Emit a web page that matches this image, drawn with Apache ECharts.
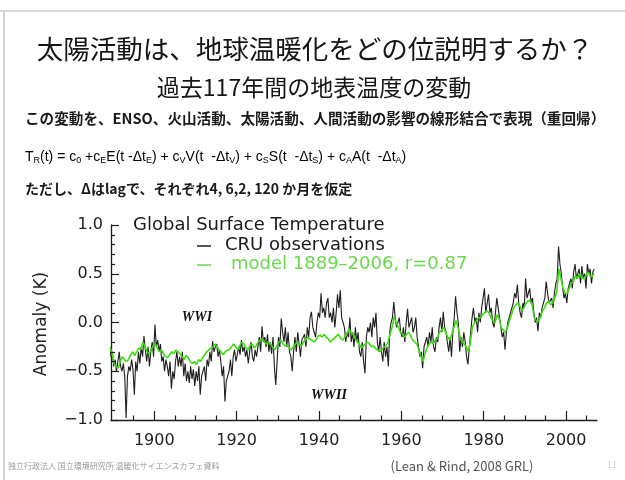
<!DOCTYPE html>
<html>
<head>
<meta charset="utf-8">
<script src="https://cdn.jsdelivr.net/npm/echarts@6/dist/echarts.min.js"></script>
<style>
  html, body { margin: 0; padding: 0; background: #fff; }
  #chart { width: 625px; height: 480px; }
</style>
</head>
<body>
<div id="chart"></div>
<script>
// Global surface temperature anomaly (K): CRU observations, 3 samples per year from 1889
const obsStartYear = 1889;
const obsPerYear = 3;
const cruObs = [
  -0.25, -0.35, -0.30,  // 1889
  -0.45, -0.38, -0.50,  // 1890
  -0.40, -0.30, -0.45,
  -0.50, -0.42, -0.55,
  -0.98, -0.55, -0.45,
  -0.50, -0.38, -0.48,
  -0.74, -0.40, -0.50,  // 1895
  -0.30, -0.42, -0.25,
  -0.35, -0.14, -0.28,
  -0.40, -0.25, -0.45,
  -0.30, -0.20, -0.35,
  -0.02, -0.25, -0.18,  // 1900
  -0.30, -0.22, -0.40,
  -0.35, -0.50, -0.38,
  -0.45, -0.55, -0.40,
  -0.68, -0.50, -0.58,
  -0.40, -0.30, -0.45,  // 1905
  -0.35, -0.45, -0.30,
  -0.55, -0.42, -0.60,
  -0.50, -0.62, -0.45,
  -0.58, -0.48, -0.65,
  -0.50, -0.60, -0.45,  // 1910
  -0.74, -0.55, -0.50,
  -0.45, -0.60, -0.38,
  -0.45, -0.30, -0.40,
  -0.19, -0.30, -0.25,
  -0.22, -0.35, -0.28,  // 1915
  -0.40, -0.55, -0.45,
  -0.81, -0.60, -0.55,
  -0.50, -0.38, -0.55,
  -0.35, -0.28, -0.40,
  -0.38, -0.25, -0.33,  // 1920
  -0.18, -0.30, -0.25,
  -0.35, -0.28, -0.42,
  -0.30, -0.20, -0.35,
  -0.40, -0.28, -0.35,
  -0.25, -0.15, -0.30,  // 1925
  -0.04, -0.20, -0.15,
  -0.25, -0.12, -0.30,
  -0.20, -0.32, -0.15,
  -0.45, -0.64, -0.40,
  -0.15, -0.25,  0.04,  // 1930
  -0.10, -0.20, -0.05,
  -0.25, -0.10, -0.30,
  -0.35, -0.50, -0.30,
  -0.15, -0.30, -0.10,
  -0.22, -0.35, -0.18,  // 1935
  -0.20, -0.12, -0.25,
  -0.05, -0.15,  0.05,
   0.11, -0.05, -0.10,
  -0.15,  0.00,  0.10,
   0.05,  0.30,  0.10,  // 1940
   0.15,  0.05,  0.20,
   0.25,  0.05,  0.10,
   0.00,  0.15, -0.05,
   0.10,  0.29,  0.15,
   0.33,  0.05,  0.00,  // 1945
  -0.05, -0.20, -0.10,
  -0.15,  0.05, -0.20,
  -0.10, -0.25, -0.05,
  -0.20, -0.10, -0.30,
  -0.35, -0.20, -0.40,  // 1950
  -0.52, -0.15, -0.05,
  -0.10,  0.00, -0.15,
   0.05, -0.05,  0.10,
  -0.20, -0.30, -0.15,
  -0.30, -0.40, -0.20,  // 1955
  -0.35, -0.25, -0.45,
  -0.10,  0.00,  0.05,
   0.21,  0.05, -0.05,
  -0.05,  0.05, -0.10,
  -0.15, -0.05, -0.20,  // 1960
   0.00,  0.14, -0.05,
  -0.05,  0.05, -0.10,
  -0.05,  0.05, -0.15,
  -0.25, -0.35, -0.30,
  -0.47, -0.25, -0.20,  // 1965
  -0.15, -0.25, -0.10,
  -0.20, -0.05, -0.25,
  -0.30, -0.15, -0.20,
  -0.05,  0.05, -0.10,
   0.11, -0.05, -0.10,  // 1970
  -0.20, -0.30, -0.15,
  -0.35, -0.10,  0.05,
   0.27,  0.10,  0.00,
  -0.30, -0.15, -0.25,
  -0.10, -0.20, -0.35,  // 1975
  -0.43, -0.25, -0.10,
   0.05,  0.15,  0.00,
   0.05, -0.10,  0.10,
   0.00,  0.15,  0.25,
   0.35,  0.10,  0.20,  // 1980
   0.29,  0.10,  0.15,
   0.00, -0.05,  0.10,
   0.25,  0.15,  0.05,
  -0.05, -0.15, -0.10,
  -0.28, -0.10,  0.00,  // 1985
   0.05,  0.10,  0.15,
   0.20,  0.30,  0.25,
   0.39,  0.20,  0.10,
   0.05,  0.20,  0.15,
   0.45,  0.25,  0.30,  // 1990
   0.35,  0.20,  0.25,
   0.10,  0.00,  0.05,
  -0.09,  0.10,  0.05,
   0.15,  0.20,  0.25,
   0.42,  0.30,  0.20,  // 1995
   0.18,  0.25,  0.15,
   0.30,  0.40,  0.45,
   0.78,  0.60,  0.50,
   0.35,  0.25,  0.30,
   0.20,  0.35,  0.40,  // 2000
   0.45,  0.35,  0.52,
   0.60,  0.45,  0.50,
   0.55,  0.40,  0.58,
   0.45,  0.50,  0.35,
   0.60,  0.50,  0.55,  // 2005
   0.40,  0.52,  0.55
];

// Regression model (ENSO, volcanic, solar, anthropogenic), 2 samples per year from 1889
const modelStartYear = 1889;
const modelPerYear = 2;
const modelFit = [
  -0.25, -0.32,  -0.42, -0.45,  -0.47, -0.40,  -0.35, -0.38,  -0.40, -0.38,  // 1889-1893
  -0.33, -0.30,  -0.34, -0.30,  -0.26, -0.28,  -0.20, -0.25,  -0.30, -0.32,  // 1894-1898
  -0.28, -0.24,  -0.22, -0.26,  -0.30, -0.28,  -0.32, -0.35,  -0.36, -0.33,  // 1899-1903
  -0.30, -0.32,  -0.28, -0.30,  -0.32, -0.35,  -0.38, -0.34,  -0.36, -0.40,  // 1904-1908
  -0.42, -0.40,  -0.43, -0.38,  -0.40, -0.36,  -0.33, -0.30,  -0.28, -0.26,  // 1909-1913
  -0.25, -0.22,  -0.25, -0.28,  -0.30, -0.33,  -0.30, -0.28,  -0.28, -0.25,  // 1914-1918
  -0.22, -0.25,  -0.28, -0.24,  -0.20, -0.22,  -0.26, -0.28,  -0.24, -0.22,  // 1919-1923
  -0.26, -0.24,  -0.20, -0.18,  -0.17, -0.20,  -0.22, -0.20,  -0.22, -0.25,  // 1924-1928
  -0.28, -0.24,  -0.20, -0.18,  -0.22, -0.24,  -0.23, -0.26,  -0.28, -0.25,  // 1929-1933
  -0.22, -0.20,  -0.22, -0.24,  -0.20, -0.18,  -0.15, -0.17,  -0.18, -0.20,  // 1934-1938
  -0.18, -0.14,  -0.13, -0.15,  -0.12, -0.15,  -0.17, -0.20,  -0.18, -0.16,  // 1939-1943
  -0.14, -0.12,  -0.16, -0.18,  -0.15, -0.12,  -0.07, -0.10,  -0.12, -0.16,  // 1944-1948
  -0.20, -0.22,  -0.26, -0.24,  -0.22, -0.20,  -0.22, -0.25,  -0.24, -0.27,  // 1949-1953
  -0.28, -0.30,  -0.28, -0.25,  -0.24, -0.20,  -0.12, -0.05,   0.06,  0.00,  // 1954-1958
  -0.05, -0.10,  -0.12, -0.15,  -0.12, -0.10,  -0.14, -0.18,  -0.20, -0.22,  // 1959-1963
  -0.28, -0.35,  -0.40, -0.32,  -0.26, -0.22,  -0.20, -0.22,  -0.18, -0.16,  // 1964-1968
  -0.10, -0.08,  -0.05, -0.10,  -0.15, -0.18,  -0.12, -0.05,   0.02, -0.05,  // 1969-1973
  -0.15, -0.20,  -0.22, -0.25,  -0.30, -0.20,  -0.05,  0.00,   0.02,  0.05,  // 1974-1978
   0.05,  0.08,   0.10,  0.12,   0.10,  0.05,   0.02,  0.00,   0.08,  0.04,  // 1979-1983
  -0.05, -0.08,  -0.10, -0.05,   0.02,  0.08,   0.15,  0.18,   0.20,  0.17,  // 1984-1988
   0.12,  0.15,   0.20,  0.22,   0.23,  0.18,   0.05,  0.02,   0.01,  0.05,  // 1989-1993
   0.12,  0.15,   0.20,  0.22,   0.18,  0.20,   0.25,  0.32,   0.55,  0.45,  // 1994-1998
   0.35,  0.30,   0.30,  0.35,   0.40,  0.42,   0.48,  0.45,   0.50,  0.46,  // 1999-2003
   0.45,  0.48,   0.52,  0.48,   0.47,  0.50                                  // 2004-2006
];

// Axis range and tick positions
const X_MIN = 1889.5, X_MAX = 2007.5;
const Y_MIN = -1, Y_MAX = 1;
const xMajorTicks = [1900, 1920, 1940, 1960, 1980, 2000];
const xMinorTicks = [1895, 1905, 1910, 1915, 1925, 1930, 1935, 1945, 1950, 1955,
                     1965, 1970, 1975, 1985, 1990, 1995, 2005];
const yMajorTicks = [-1, -0.5, 0, 0.5, 1];
const yMinorTicks = [-0.9, -0.8, -0.7, -0.6, -0.4, -0.3, -0.2, -0.1,
                     0.1, 0.2, 0.3, 0.4, 0.6, 0.7, 0.8, 0.9];

const obsName = 'CRU observations';
const modelName = 'model 1889\u20132006, r=0.87';

const obsData = cruObs.map((v, i) => [obsStartYear + (i + 0.5) / obsPerYear, v]);
const modelData = modelFit.map((v, i) => [modelStartYear + (i + 0.5) / modelPerYear, v]);

const PLOT_FONT = '"DejaVu Sans", sans-serif';
const JP_FONT = '"Noto Sans CJK JP", sans-serif';
const INK = '#1e1e1e';
const GREEN = '#3ddc10';
const KEY_GREEN = '#6ad84e';

// plot box in pixels
const GRID = { left: 111, right: 28, top: 225, bottom: 60 };
const GRID_W = 625 - GRID.left - GRID.right;
const GRID_H = 480 - GRID.top - GRID.bottom;
const X_MAJOR_LEN = 9, X_MINOR_LEN = 4.5, Y_MAJOR_LEN = 8, Y_MINOR_LEN = 4;
// left-axis tick lengths expressed in years along the x scale
const PX_PER_YEAR = GRID_W / (X_MAX - X_MIN);

const chart = echarts.init(document.getElementById('chart'), null, { renderer: 'canvas' });

function txt(text, x, y, opts) {
  return {
    type: 'text',
    silent: true,
    style: Object.assign({
      text: text, x: x, y: y,
      fill: '#111',
      textVerticalAlign: 'middle',
      textAlign: 'left'
    }, opts)
  };
}

// Regression formula with subscripts
const formulaRich = {
  n: { fontSize: 14, fontFamily: '"Liberation Sans", sans-serif', color: '#222', lineHeight: 18 },
  s: { fontSize: 9, fontFamily: '"Liberation Sans", sans-serif', color: '#222', lineHeight: 18, padding: [7, 0, 0, 0] }
};
const formulaText =
  '{n|T}{s|R}{n|(t) = c}{s|0}{n| +c}{s|E}{n|E(t -\u0394t}{s|E}{n|) + c}{s|V}{n|V(t  -\u0394t}{s|V}{n|) + c}{s|S}' +
  '{n|S(t  -\u0394t}{s|S}{n|) + c}{s|A}{n|A(t  -\u0394t}{s|A}{n|)}';

const tickLine = { color: INK, width: 1.2 };

// Tick-only helper axis: a top axis shifted onto the bottom edge so its outward ticks point up into the plot
function xTickAxis(values, len) {
  return {
    type: 'value', min: X_MIN, max: X_MAX, position: 'top', offset: -GRID_H,
    axisLine: { show: false },
    axisTick: { show: true, inside: false, length: len, customValues: values, lineStyle: tickLine },
    axisLabel: { show: false },
    splitLine: { show: false }
  };
}

// Left-axis ticks as short segments in data space, starting on the axis and reaching into the plot
function yTickSegment(v, lenPx) {
  return [{ coord: [X_MIN, v] }, { coord: [X_MIN + lenPx / PX_PER_YEAR, v] }];
}
const yTickSegments = yMajorTicks.map(v => yTickSegment(v, Y_MAJOR_LEN))
  .concat(yMinorTicks.map(v => yTickSegment(v, Y_MINOR_LEN)));

const option = {
  backgroundColor: '#ffffff',
  animation: false,
  grid: Object.assign({ containLabel: false }, GRID),
  xAxis: [
    {
      type: 'value', min: X_MIN, max: X_MAX,
      axisLine: { show: true, onZero: false, lineStyle: { color: INK, width: 1.3 } },
      axisTick: { show: false },
      axisLabel: { customValues: xMajorTicks, color: '#222', fontSize: 16, fontFamily: PLOT_FONT, margin: 13,
                   formatter: v => String(v) },
      splitLine: { show: false }
    },
    xTickAxis(xMajorTicks, X_MAJOR_LEN),
    xTickAxis(xMinorTicks, X_MINOR_LEN)
  ],
  yAxis: {
    type: 'value', min: Y_MIN, max: Y_MAX,
    axisLine: { show: true, onZero: false, lineStyle: { color: INK, width: 1.3 } },
    axisTick: { show: false },
    axisLabel: {
      customValues: yMajorTicks,
      color: '#222', fontSize: 16, fontFamily: PLOT_FONT, margin: 8,
      formatter: v => (v < 0 ? '\u2212' : '') + Math.abs(v).toFixed(1)
    },
    splitLine: { show: false }
  },
  series: [
    {
      name: obsName, type: 'line', data: obsData,
      showSymbol: false, symbol: 'none', clip: true,
      lineStyle: { color: INK, width: 1.1 }, z: 2
    },
    {
      name: modelName, type: 'line', data: modelData,
      showSymbol: false, symbol: 'none', clip: true,
      lineStyle: { color: GREEN, width: 1.6 }, z: 3
    },
    {
      // carrier for the left-axis tick segments
      name: 'yTicks', type: 'line', data: [], silent: true, z: 5,
      markLine: {
        silent: true, animation: false,
        symbol: ['none', 'none'],
        label: { show: false },
        emphasis: { disabled: true },
        lineStyle: { type: 'solid', color: INK, width: 1.2 },
        data: yTickSegments
      }
    }
  ],
  graphic: [
    // slide frame
    { type: 'rect', silent: true, shape: { x: 0, y: 10, width: 625, height: 2 }, style: { fill: '#d9d9d9' } },
    { type: 'rect', silent: true, shape: { x: 3, y: 10, width: 2, height: 470 }, style: { fill: '#d4d4d4' } },

    // slide header
    txt('太陽活動は、地球温暖化をどの位説明するか？', 315, 49,
        { textAlign: 'center', font: '26.5px ' + JP_FONT, fill: '#151515' }),
    txt('過去117年間の地表温度の変動', 314, 87,
        { textAlign: 'center', font: '23px ' + JP_FONT, fill: '#151515' }),
    txt('この変動を、ENSO、火山活動、太陽活動、人間活動の影響の線形結合で表現（重回帰）', 25, 118,
        { font: 'bold 14.6px ' + JP_FONT, fill: '#1a1a1a' }),
    { type: 'text', silent: true, style: { text: formulaText, rich: formulaRich, x: 25, y: 157, textVerticalAlign: 'middle' } },
    txt('ただし、Δはlagで、それぞれ4, 6,2, 120 か月を仮定', 25, 189,
        { font: 'bold 14px ' + JP_FONT, fill: '#1a1a1a' }),

    // plot title and key
    txt('Global Surface Temperature', 133, 225, { font: '18px ' + PLOT_FONT, fill: '#1a1a1a' }),
    { type: 'line', silent: true, shape: { x1: 197, y1: 246, x2: 211, y2: 246 }, style: { stroke: INK, lineWidth: 1.5 } },
    txt(obsName, 225, 245, { font: '18px ' + PLOT_FONT, fill: '#1a1a1a' }),
    { type: 'line', silent: true, shape: { x1: 197, y1: 265, x2: 211, y2: 265 }, style: { stroke: KEY_GREEN, lineWidth: 1.5 } },
    txt(modelName, 231, 264, { font: '18px ' + PLOT_FONT, fill: KEY_GREEN }),

    // axis name
    {
      type: 'text', silent: true, x: 42, y: 324, rotation: Math.PI / 2,
      style: { text: 'Anomaly (K)', x: 0, y: 0, textAlign: 'center', textVerticalAlign: 'middle',
               font: '17px ' + PLOT_FONT, fill: '#222' }
    },

    // war annotations
    txt('WWI', 197, 317, { textAlign: 'center', font: 'italic bold 14px "Liberation Serif", serif', fill: '#111' }),
    txt('WWII', 329, 395, { textAlign: 'center', font: 'italic bold 14px "Liberation Serif", serif', fill: '#111' }),

    // footer
    txt('独立行政法人 国立環境研究所 温暖化サイエンスカフェ資料', 8, 466,
        { font: '8px ' + JP_FONT, fill: '#9a9a9a' }),
    txt('(Lean & Rind, 2008 GRL)', 462, 466,
        { textAlign: 'center', font: '13px ' + JP_FONT, fill: '#555' }),
    txt('11', 612, 465, { textAlign: 'center', font: '9px ' + JP_FONT, fill: '#cfcfcf' })
  ]
};

chart.setOption(option);
</script>
</body>
</html>
